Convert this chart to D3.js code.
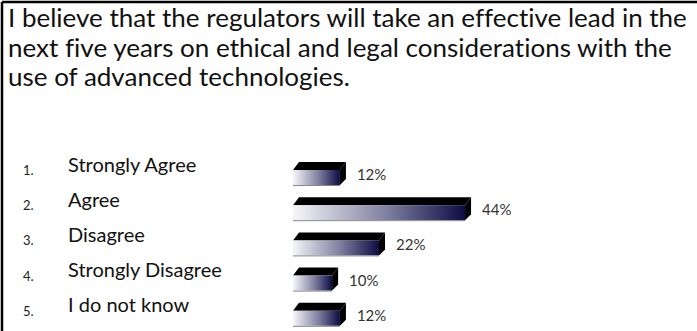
<!DOCTYPE html>
<html>
<head>
<meta charset="utf-8">
<script src="https://cdn.jsdelivr.net/npm/d3@7"></script>
<style>
  body { margin: 0; background: #fff; }
  svg { display: block; font-family: Lato, "Open Sans", sans-serif; font-variant-ligatures: none; }
</style>
</head>
<body>
<svg id="chart" width="697" height="331"></svg>
<script>
var titleLines = [
  "I believe that the regulators will take an effective lead in the",
  "next five years on ethical and legal considerations with the",
  "use of advanced technologies."
];
var categories = ["Strongly Agree", "Agree", "Disagree", "Strongly Disagree", "I do not know"];
var numbers = ["1.", "2.", "3.", "4.", "5."];
var values = [12, 44, 22, 10, 12];

var svg = d3.select("#chart");

// frame (left + top only, like the cropped original)
svg.append("line").attr("x1", 2).attr("y1", 2).attr("x2", 697).attr("y2", 2)
  .attr("stroke", "#000").attr("stroke-width", 2.5);
svg.append("line").attr("x1", 2).attr("y1", 2).attr("x2", 2).attr("y2", 331)
  .attr("stroke", "#000").attr("stroke-width", 2.5);

// title: measure at the wide size, then draw a bit shorter so lines don't collide
var title = svg.append("g").selectAll("text")
  .data(titleLines)
  .join("text")
  .attr("x", 8)
  .attr("y", function(d, i) { return 27 + i * 29.5; })
  .attr("font-size", 26)
  .attr("fill", "#111")
  .text(function(d) { return d; });
title.each(function() {
  var w = this.getComputedTextLength();
  d3.select(this)
    .attr("font-size", 24.2)
    .attr("textLength", w)
    .attr("lengthAdjust", "spacingAndGlyphs");
});

var defs = svg.append("defs");
var grad = defs.append("linearGradient")
  .attr("id", "bar-grad");
grad.append("stop").attr("offset", "0%").attr("stop-color", "#f6f6f9");
grad.append("stop").attr("offset", "55%").attr("stop-color", "#7e7ea0");
grad.append("stop").attr("offset", "100%").attr("stop-color", "#0c0c44");

var x = d3.scaleLinear().domain([0, 100]).range([293, 684]);
var y = d3.scaleBand().domain(categories).range([155, 331]).paddingInner(0);

var dx = 6, dy = 8, fh = 15;

var rows = svg.append("g").selectAll("g")
  .data(categories)
  .join("g")
  .attr("transform", function(d) { return "translate(0," + y(d) + ")"; });

rows.append("text")
  .attr("x", 23)
  .attr("y", 20)
  .attr("font-size", 13)
  .attr("fill", "#222")
  .text(function(d, i) { return numbers[i]; });

rows.append("text")
  .attr("x", 68)
  .attr("y", 16.5)
  .attr("font-size", 20)
  .attr("fill", "#111")
  .text(function(d) { return d; });

// 3D bars
rows.each(function(d, i) {
  var g = d3.select(this);
  var x0 = x(0), x1 = x(values[i]);
  var top = 7 + dy; // top of front face
  g.append("polygon")
    .attr("points", [[x0, top], [x0 + dx, top - dy], [x1 + dx, top - dy], [x1, top]].join(" "))
    .attr("fill", "#000");
  g.append("polygon")
    .attr("points", [[x1, top], [x1 + dx, top - dy], [x1 + dx, top + fh - dy + 2], [x1, top + fh]].join(" "))
    .attr("fill", "#000");
  g.append("rect")
    .attr("x", x0).attr("y", top)
    .attr("width", x1 - x0).attr("height", fh)
    .attr("fill", "url(#bar-grad)");
  g.append("line")
    .attr("x1", x0).attr("x2", x1).attr("y1", top + fh + 0.5).attr("y2", top + fh + 0.5)
    .attr("stroke", "#888").attr("stroke-width", 1);
  g.append("text")
    .attr("x", x1 + 17)
    .attr("y", 25)
    .attr("font-size", 15)
    .attr("fill", "#333")
    .text(values[i] + "%");
});
</script>
</body>
</html>
